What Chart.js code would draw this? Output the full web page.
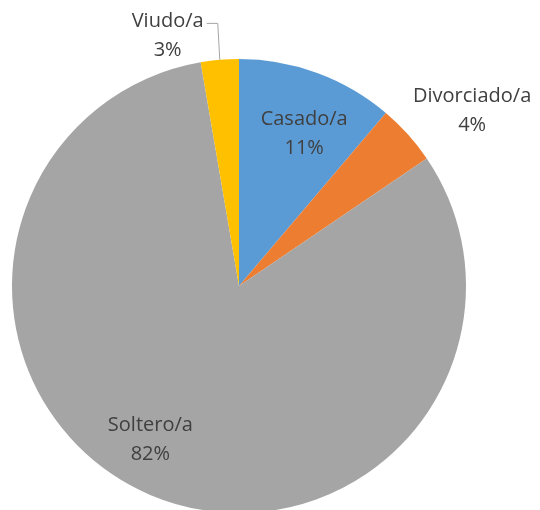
<!DOCTYPE html>
<html>
<head>
<meta charset="utf-8">
<script src="https://cdn.jsdelivr.net/npm/chart.js"></script>
<style>
  body { margin: 0; background: #fff; }
  #wrap { width: 540px; height: 510px; overflow: hidden; position: relative; }
  canvas { display: block; }
</style>
</head>
<body>
<div id="wrap"><canvas id="pie" width="540" height="530"></canvas></div>
<script>
const labels = ['Casado/a', 'Divorciado/a', 'Soltero/a', 'Viudo/a'];
const shares = [11.2, 4.3, 81.8, 2.7];
const colors = ['#5B9BD5', '#ED7D31', '#A5A5A5', '#FFC000'];

// where each label sits: radius factor and angle nudge (degrees)
const labelPlace = [
  { r: 0.73, nudge: 3 },
  { r: 1.285, nudge: 5 },
  { r: 0.78, nudge: 7 },
  { r: 1.15, nudge: -11, leader: true }
];

const pieLabels = {
  id: 'pieLabels',
  afterDatasetsDraw(chart) {
    const ctx = chart.ctx;
    const meta = chart.getDatasetMeta(0);
    const total = shares.reduce((a, b) => a + b, 0);
    ctx.save();
    ctx.font = '20px "Open Sans"';
    ctx.fillStyle = '#404040';
    ctx.textAlign = 'center';
    ctx.textBaseline = 'middle';
    meta.data.forEach((arc, i) => {
      const p = arc.getProps(['x', 'y', 'startAngle', 'endAngle', 'outerRadius'], true);
      const mid = (p.startAngle + p.endAngle) / 2 + labelPlace[i].nudge * Math.PI / 180;
      const rr = p.outerRadius * labelPlace[i].r;
      const lx = p.x + Math.cos(mid) * rr;
      const ly = p.y + Math.sin(mid) * rr;
      const pct = Math.round(shares[i] / total * 100) + '%';
      ctx.fillText(labels[i], lx, ly - 14);
      ctx.fillText(pct, lx, ly + 15);
      if (labelPlace[i].leader) {
        const w = ctx.measureText(labels[i]).width;
        const a = (p.startAngle + p.endAngle) / 2;
        const ex = p.x + Math.cos(a) * p.outerRadius;
        const ey = p.y + Math.sin(a) * p.outerRadius;
        ctx.strokeStyle = '#A6A6A6';
        ctx.lineWidth = 1;
        ctx.beginPath();
        ctx.moveTo(lx + w / 2 + 3, ly - 11.5);
        ctx.lineTo(ex - 2, ly - 11.5);
        ctx.lineTo(ex, ey);
        ctx.stroke();
      }
    });
    ctx.restore();
  }
};

new Chart(document.getElementById('pie'), {
  type: 'pie',
  data: {
    labels: labels,
    datasets: [{
      data: shares,
      backgroundColor: colors,
      borderWidth: 0
    }]
  },
  options: {
    responsive: false,
    animation: false,
    layout: { padding: { top: 59, left: 12, right: 74, bottom: 17 } },
    plugins: {
      legend: { display: false },
      tooltip: { enabled: false }
    }
  },
  plugins: [pieLabels]
});
</script>
</body>
</html>
